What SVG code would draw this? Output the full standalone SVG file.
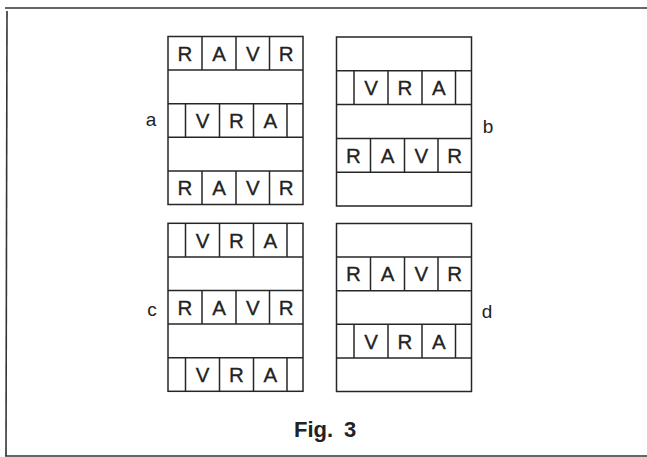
<svg xmlns="http://www.w3.org/2000/svg" width="647" height="457" viewBox="0 0 647 457">
<defs>
<style>
.ln{stroke:#262626;stroke-width:1.5;fill:none}
.fr{stroke:#333;stroke-width:1.6;fill:none}
.t{font-family:"Liberation Sans",Arial,sans-serif;font-size:20.5px;fill:#222;stroke:#222;stroke-width:0.3;text-anchor:middle}
.lb{font-family:"Liberation Sans",Arial,sans-serif;font-size:19px;fill:#222;text-anchor:middle}
.cap{font-family:"Liberation Sans",Arial,sans-serif;font-size:22px;font-weight:bold;fill:#222}
</style>
<g id="ravr">
<line class="ln" x1="34" y1="0" x2="34" y2="33.6"/>
<line class="ln" x1="68" y1="0" x2="68" y2="33.6"/>
<line class="ln" x1="101.5" y1="0" x2="101.5" y2="33.6"/>
<text class="t" x="17" y="24.3">R</text>
<text class="t" x="51" y="24.3">A</text>
<text class="t" x="84.75" y="24.3">V</text>
<text class="t" x="118.25" y="24.3">R</text>
</g>
<g id="vra">
<line class="ln" x1="17.5" y1="0" x2="17.5" y2="33.6"/>
<line class="ln" x1="51.5" y1="0" x2="51.5" y2="33.6"/>
<line class="ln" x1="85.5" y1="0" x2="85.5" y2="33.6"/>
<line class="ln" x1="119" y1="0" x2="119" y2="33.6"/>
<text class="t" x="34.5" y="24.3">V</text>
<text class="t" x="68.5" y="24.3">R</text>
<text class="t" x="102.25" y="24.3">A</text>
</g>
<g id="frame5">
<rect class="ln" x="0" y="0" width="135" height="168"/>
<line class="ln" x1="0" y1="33.6" x2="135" y2="33.6"/>
<line class="ln" x1="0" y1="67.2" x2="135" y2="67.2"/>
<line class="ln" x1="0" y1="100.8" x2="135" y2="100.8"/>
<line class="ln" x1="0" y1="134.4" x2="135" y2="134.4"/>
</g>
</defs>

<g id="border">
<line class="fr" x1="5" y1="8" x2="647" y2="8"/>
<line class="fr" x1="7" y1="11" x2="6" y2="456"/>
<line class="fr" x1="5" y1="456" x2="647" y2="456"/>
</g>

<g id="panel-a" transform="translate(168,36.5)">
<use href="#frame5"/>
<use href="#ravr"/>
<use href="#vra" y="67.2"/>
<use href="#ravr" y="134.4"/>
</g>
<g id="panel-b" transform="translate(336.5,37) scale(1,1.006)">
<use href="#frame5"/>
<use href="#vra" y="33.6"/>
<use href="#ravr" y="100.8"/>
</g>
<g id="panel-c" transform="translate(168,223.3)">
<use href="#frame5"/>
<use href="#vra"/>
<use href="#ravr" y="67.2"/>
<use href="#vra" y="134.4"/>
</g>
<g id="panel-d" transform="translate(336.5,223.5)">
<use href="#frame5"/>
<use href="#ravr" y="33.6"/>
<use href="#vra" y="100.8"/>
</g>

<g id="labels">
<text class="lb" x="151" y="126">a</text>
<text class="lb" x="488" y="133">b</text>
<text class="lb" x="152" y="316">c</text>
<text class="lb" x="487" y="318">d</text>
</g>
<g id="connectors"/>
<text id="caption" class="cap" x="294" y="437">Fig.<tspan x="344">3</tspan></text>
</svg>
